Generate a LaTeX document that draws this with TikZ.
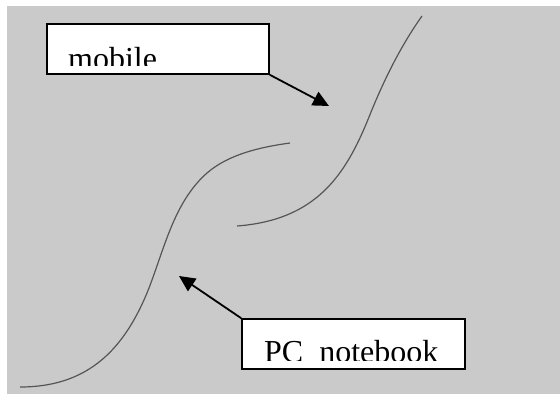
\documentclass[tikz,border=0pt]{standalone}
\usepackage{fontspec}
\setmainfont{Liberation Serif}
\usetikzlibrary{arrows.meta}
\definecolor{panelgray}{HTML}{CACACA}
\definecolor{tracegray}{HTML}{555555}
\tikzstyle{label box}=[draw=black,fill=white,line width=1.6pt,inner sep=0pt,minimum height=50pt]
\tikzstyle{label text}=[inner sep=0pt,anchor=base west,font=\fontsize{32}{38}\selectfont]
\tikzstyle{pointer} = [draw,line width=1.8pt,-{Triangle[length=16pt,width=15pt]},black]
\tikzstyle{trace} = [draw,line width=1.2pt,tracegray]

\begin{document}
\begin{tikzpicture}[x=1pt,y=-1pt]
    \useasboundingbox (0,0) rectangle (560,394);
    \fill[panelgray] (7,6) rectangle (560,394);

    % the two s-curves
    \path[trace] (237,226) .. controls (315,220) and (345,177) .. (369,117)
        .. controls (383,82) and (400,47) .. (422,16);
    \path[trace] (20,387) .. controls (85,387) and (122,353) .. (147,293)
        .. controls (164,251) and (173,203) .. (207,173)
        .. controls (229,154) and (261,147) .. (290,143);

    % boxes, text cut off at the inner margin
    \node[label box,minimum width=222pt] (mobile) at (158,49) {};
    \node[label box,minimum width=223pt] (pc) at (353.5,344) {};
    \foreach \bx/\pos/\txt in {mobile/{(68,69.5)}/mobile, pc/{(264,362.5)}/{PC~~notebook}}{
        \begin{scope}
            \clip (\bx.north west) rectangle ([yshift=9pt]\bx.south east);
            \node[label text] (\bx text) at \pos {\txt};
        \end{scope}
    }

    \coordinate (mobiletip) at (329,106);
    \coordinate (pctip) at (179,276);
    \path[pointer] (mobile.south east) -- (mobiletip);
    \path[pointer] (pc.north west) -- (pctip);
\end{tikzpicture}
\end{document}
